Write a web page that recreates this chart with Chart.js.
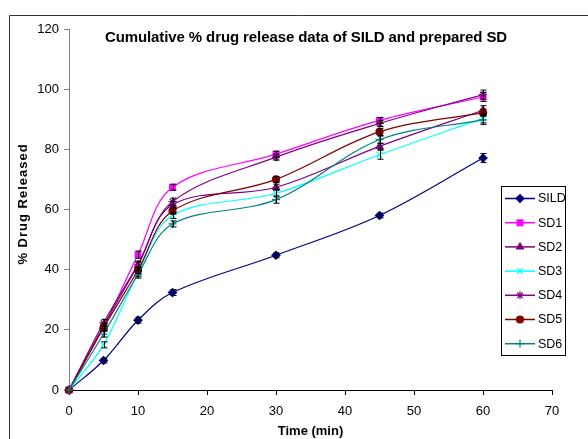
<!DOCTYPE html>
<html>
<head>
<meta charset="utf-8">
<script src="https://cdn.jsdelivr.net/npm/chart.js"></script>
<style>
    body { margin: 0; background: #fff; }
    canvas { display: block; }
</style>
</head>
<body>
<canvas id="releaseChart" width="588" height="439"></canvas>
<script>
// sampling times (min) and tick labels
const times = [0, 5, 10, 15, 30, 45, 60];
const xTicks = [0, 10, 20, 30, 40, 50, 60, 70];
const yTicks = [0, 20, 40, 60, 80, 100, 120];

// cumulative % drug released
const sild = [0, 9.8, 23.2, 32.4, 44.8, 58.0, 77.1];
const sd1 = [0, 21.0, 45.0, 67.4, 78.4, 89.6, 97.4];
const sd2 = [0, 21.2, 41.5, 61.6, 67.4, 81.0, 93.0];
const sd3 = [0, 15.0, 38.8, 58.0, 65.4, 78.2, 90.3];
const sd4 = [0, 22.3, 41.8, 62.6, 77.4, 88.6, 98.2];
const sd5 = [0, 20.6, 39.8, 59.5, 70.0, 85.8, 92.2];
const sd6 = [0, 18.6, 38.4, 55.2, 63.3, 83.2, 89.8];

// +/- error (SD) for every point
const sildErr = [0, 0.8, 1.0, 1.0, 0.8, 0.8, 1.5];
const sd1Err = [0, 1.0, 1.2, 1.0, 1.0, 1.0, 1.5];
const sd2Err = [0, 1.0, 1.0, 1.0, 1.0, 1.0, 1.5];
const sd3Err = [0, 1.0, 1.0, 1.0, 1.2, 1.5, 1.5];
const sd4Err = [0, 1.2, 1.0, 1.2, 1.0, 1.0, 1.5];
const sd5Err = [0, 1.0, 1.0, 1.0, 1.0, 1.2, 1.2];
const sd6Err = [0, 1.0, 1.2, 1.0, 1.2, 1.2, 1.5];

const seriesNames = ['SILD', 'SD1', 'SD2', 'SD3', 'SD4', 'SD5', 'SD6'];
const seriesValues = [sild, sd1, sd2, sd3, sd4, sd5, sd6];
const seriesErrors = [sildErr, sd1Err, sd2Err, sd3Err, sd4Err, sd5Err, sd6Err];
const seriesColors = ['#000080', '#ff00ff', '#800080', '#00ffff', '#800080', '#800000', '#008080'];
const seriesMarkers = ['rectRot', 'rect', 'triangle', 'crossRot', 'star', 'circle', 'cross'];

Chart.defaults.font.family = "'Liberation Sans', Arial, sans-serif";
Chart.defaults.color = '#000';

const datasets = seriesNames.map((name, i) => ({
    label: name,
    data: times.map((t, j) => ({ x: t, y: seriesValues[i][j] })),
    errors: seriesErrors[i],
    borderColor: seriesColors[i],
    backgroundColor: seriesColors[i],
    borderWidth: 1.2,
    pointStyle: seriesMarkers[i],
    pointRadius: seriesMarkers[i] === 'circle' ? 3.5 : 4,
    pointBorderWidth: 1.2,
    tension: 0.35,
    clip: false,
    order: seriesNames.length - i
}));

//error bars, drawn through the scales
const errorBars = {
    id: 'errorBars',
    afterDatasetsDraw(chart) {
        const ctx = chart.ctx;
        const yScale = chart.scales.y;
        ctx.save();
        ctx.strokeStyle = '#000';
        ctx.lineWidth = 1;
        chart.data.datasets.forEach((ds, i) => {
            const meta = chart.getDatasetMeta(i);
            ds.data.forEach((p, j) => {
                const e = ds.errors[j];
                if (!e) return;
                const x = Math.round(meta.data[j].x) + 0.5;
                const top = yScale.getPixelForValue(p.y + e);
                const bot = yScale.getPixelForValue(p.y - e);
                ctx.beginPath();
                ctx.moveTo(x, top); ctx.lineTo(x, bot);
                ctx.moveTo(x - 3, top); ctx.lineTo(x + 3, top);
                ctx.moveTo(x - 3, bot); ctx.lineTo(x + 3, bot);
                ctx.stroke();
            });
        });
        ctx.restore();
    }
};

//frame, titles and the boxed legend
const decorations = {
    id: 'decorations',
    afterDraw(chart) {
        const ctx = chart.ctx;
        ctx.save();

        ctx.lineWidth = 1;
        ctx.strokeStyle = '#333';
        ctx.beginPath();
        ctx.moveTo(9.5, 439);
        ctx.lineTo(9.5, 15.5);
        ctx.lineTo(588, 15.5);
        ctx.stroke();

        ctx.fillStyle = '#000';
        ctx.textAlign = 'center';
        ctx.textBaseline = 'middle';
        ctx.font = "bold 15px 'Liberation Sans', Arial, sans-serif";
        ctx.letterSpacing = '-0.1px';
        ctx.fillText('Cumulative % drug release data of SILD and prepared SD', 306, 38);
        ctx.letterSpacing = '0px';

        ctx.save();
        ctx.translate(23, 204);
        ctx.rotate(-Math.PI / 2);
        ctx.font = "bold 13px 'Liberation Sans', Arial, sans-serif";
        ctx.letterSpacing = '1px';
        ctx.fillText('% Drug Released', 0, 0);
        ctx.restore();

        const bx = 501.5, by = 186.5, bw = 64, bh = 169;
        ctx.fillStyle = '#fff';
        ctx.fillRect(bx, by, bw, bh);
        ctx.strokeStyle = '#000';
        ctx.strokeRect(bx, by, bw, bh);
        ctx.textAlign = 'left';
        ctx.font = "12.5px 'Liberation Sans', Arial, sans-serif";
        chart.data.datasets.forEach((ds, i) => {
            const y = 198.5 + i * 24.2;
            ctx.strokeStyle = ds.borderColor;
            ctx.fillStyle = ds.backgroundColor;
            ctx.lineWidth = 1.5;
            ctx.beginPath();
            ctx.moveTo(505, y);
            ctx.lineTo(535, y);
            ctx.stroke();
            ctx.lineWidth = 1.2;
            Chart.helpers.drawPoint(ctx, { pointStyle: ds.pointStyle, radius: ds.pointRadius, borderWidth: 1.2, rotation: 0 }, 520, y);
            ctx.fillStyle = '#000';
            ctx.fillText(ds.label, 538, y + 0.5);
        });
        ctx.restore();
    }
};

new Chart(document.getElementById('releaseChart'), {
    type: 'line',
    data: { datasets: datasets },
    plugins: [errorBars, decorations],
    options: {
        responsive: false,
        animation: false,
        devicePixelRatio: 1,
        layout: { padding: { top: 29, right: 36, left: 0, bottom: 0 } },
        plugins: {
            legend: { display: false },
            title: { display: false },
            tooltip: { enabled: false }
        },
        scales: {
            x: {
                type: 'linear',
                min: xTicks[0],
                max: xTicks[xTicks.length - 1],
                afterBuildTicks: s => { s.ticks = xTicks.map(v => ({ value: v })); },
                afterFit: s => { s.height = 49; },
                ticks: { font: { size: 13 }, padding: 9, color: '#000' },
                grid: { drawOnChartArea: false, tickLength: 5, color: '#000' },
                border: { color: '#000' },
                title: {
                    display: true,
                    text: 'Time (min)',
                    font: { size: 13, weight: 'bold' },
                    padding: { top: 0, bottom: 0 }
                }
            },
            y: {
                type: 'linear',
                min: yTicks[0],
                max: yTicks[yTicks.length - 1],
                afterBuildTicks: s => { s.ticks = yTicks.map(v => ({ value: v })); },
                afterFit: s => { s.width = 69; },
                ticks: { font: { size: 13 }, padding: 5, color: '#000' },
                grid: { drawOnChartArea: false, tickLength: 5, color: '#808080' },
                border: { color: '#808080' }
            }
        }
    }
});
</script>
</body>
</html>
